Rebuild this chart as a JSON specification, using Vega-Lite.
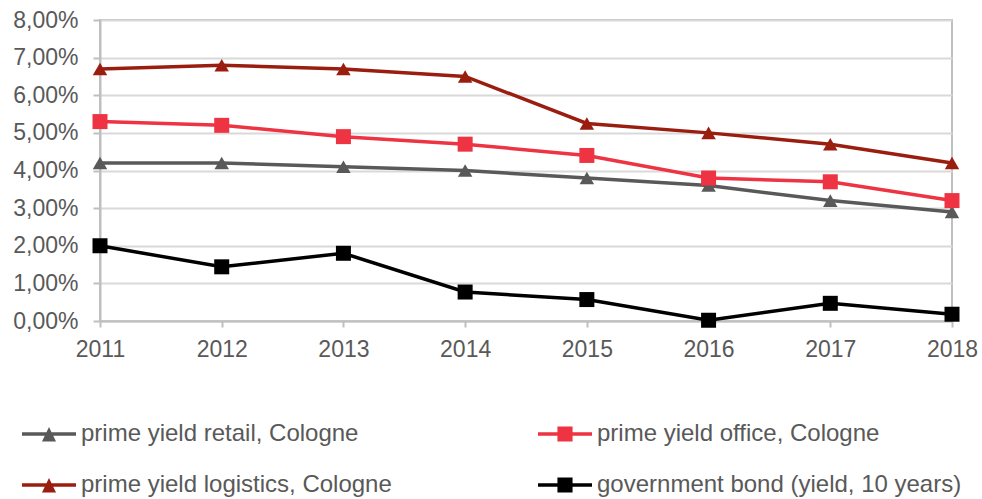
{
  "$schema": "https://vega.github.io/schema/vega-lite/v6.json",
  "width": 852,
  "height": 301,
  "autosize": {"type": "none"},
  "padding": {"left": 100, "top": 20, "right": 30, "bottom": 178},
  "background": "white",
  "config": {
    "locale": {"number": {"decimal": ",", "thousands": ".", "grouping": [3], "currency": ["", " €"]}},
    "view": {"stroke": "#bfbfbf", "strokeWidth": 2},
    "font": "Liberation Sans",
    "legend": {
      "title": null, "orient": "none", "legendX": -78, "legendY": 387,
      "direction": "horizontal", "columns": 2, "columnPadding": 146, "rowPadding": 12,
      "symbolSize": 2916, "labelFontSize": 24, "labelFont": "Liberation Sans",
      "labelColor": "#595959", "labelOffset": 5, "symbolStrokeWidth": 0, "labelLimit": 500
    }
  },
  "data": {
    "values": [
      {"year": 2011, "series": "prime yield retail, Cologne", "value": 0.042},
      {"year": 2012, "series": "prime yield retail, Cologne", "value": 0.042},
      {"year": 2013, "series": "prime yield retail, Cologne", "value": 0.041},
      {"year": 2014, "series": "prime yield retail, Cologne", "value": 0.040},
      {"year": 2015, "series": "prime yield retail, Cologne", "value": 0.038},
      {"year": 2016, "series": "prime yield retail, Cologne", "value": 0.036},
      {"year": 2017, "series": "prime yield retail, Cologne", "value": 0.032},
      {"year": 2018, "series": "prime yield retail, Cologne", "value": 0.029},
      {"year": 2011, "series": "prime yield office, Cologne", "value": 0.053},
      {"year": 2012, "series": "prime yield office, Cologne", "value": 0.052},
      {"year": 2013, "series": "prime yield office, Cologne", "value": 0.049},
      {"year": 2014, "series": "prime yield office, Cologne", "value": 0.047},
      {"year": 2015, "series": "prime yield office, Cologne", "value": 0.044},
      {"year": 2016, "series": "prime yield office, Cologne", "value": 0.038},
      {"year": 2017, "series": "prime yield office, Cologne", "value": 0.037},
      {"year": 2018, "series": "prime yield office, Cologne", "value": 0.032},
      {"year": 2011, "series": "prime yield logistics, Cologne", "value": 0.067},
      {"year": 2012, "series": "prime yield logistics, Cologne", "value": 0.068},
      {"year": 2013, "series": "prime yield logistics, Cologne", "value": 0.067},
      {"year": 2014, "series": "prime yield logistics, Cologne", "value": 0.065},
      {"year": 2015, "series": "prime yield logistics, Cologne", "value": 0.0525},
      {"year": 2016, "series": "prime yield logistics, Cologne", "value": 0.050},
      {"year": 2017, "series": "prime yield logistics, Cologne", "value": 0.047},
      {"year": 2018, "series": "prime yield logistics, Cologne", "value": 0.042},
      {"year": 2011, "series": "government bond (yield, 10 years)", "value": 0.0200},
      {"year": 2012, "series": "government bond (yield, 10 years)", "value": 0.0144},
      {"year": 2013, "series": "government bond (yield, 10 years)", "value": 0.0180},
      {"year": 2014, "series": "government bond (yield, 10 years)", "value": 0.0077},
      {"year": 2015, "series": "government bond (yield, 10 years)", "value": 0.0057},
      {"year": 2016, "series": "government bond (yield, 10 years)", "value": 0.0002},
      {"year": 2017, "series": "government bond (yield, 10 years)", "value": 0.0047},
      {"year": 2018, "series": "government bond (yield, 10 years)", "value": 0.0018}
    ]
  },
  "encoding": {
    "x": {
      "field": "year", "type": "ordinal",
      "scale": {"type": "point", "padding": 0},
      "axis": {
        "title": null, "labelAngle": 0, "labelFontSize": 23, "labelColor": "#595959",
        "labelFont": "Liberation Sans", "labelPadding": 11, "tickSize": 6,
        "tickColor": "#bfbfbf", "tickWidth": 2, "domainColor": "#bfbfbf", "domainWidth": 2,
        "grid": false
      }
    },
    "y": {
      "field": "value", "type": "quantitative",
      "scale": {"domain": [0, 0.08], "nice": false},
      "axis": {
        "title": null, "format": ".2%", "values": [0, 0.01, 0.02, 0.03, 0.04, 0.05, 0.06, 0.07, 0.08],
        "labelFontSize": 23, "labelColor": "#595959", "labelFont": "Liberation Sans",
        "labelPadding": 15, "tickSize": 7, "tickColor": "#bfbfbf", "tickWidth": 2,
        "domainColor": "#bfbfbf", "domainWidth": 2, "gridColor": "#d9d9d9", "gridWidth": 2
      }
    },
    "color": {
      "field": "series", "type": "nominal",
      "scale": {
        "domain": ["prime yield retail, Cologne", "prime yield office, Cologne", "prime yield logistics, Cologne", "government bond (yield, 10 years)"],
        "range": ["#595959", "#EE3342", "#9A1E10", "#000000"]
      },
      "legend": {
        "encode": {
          "symbols": {
            "update": {
              "shape": {"signal": "indexof(['prime yield office, Cologne','government bond (yield, 10 years)'], datum.value) >= 0 ? 'M-1,-0.065H1V0.065H-1Z M-0.28,-0.28H0.28V0.28H-0.28Z' : 'M-1,-0.065H1V0.065H-1Z M-0.26,0.28L0,-0.26L0.26,0.28Z'"},
              "size": {"value": 2916},
              "fill": {"scale": "color", "field": "value"},
              "strokeWidth": {"value": 0},
              "opacity": {"value": 1}
            }
          }
        }
      }
    }
  },
  "layer": [
    {
      "mark": {"type": "line", "strokeWidth": 3.5}
    },
    {
      "transform": [{"filter": {"field": "series", "oneOf": ["prime yield retail, Cologne", "prime yield logistics, Cologne"]}}],
      "mark": {"type": "point", "shape": "triangle-up", "filled": true, "opacity": 1, "size": 210, "strokeWidth": 0}
    },
    {
      "transform": [{"filter": {"field": "series", "oneOf": ["prime yield office, Cologne", "government bond (yield, 10 years)"]}}],
      "mark": {"type": "point", "shape": "square", "filled": true, "opacity": 1, "size": 225, "strokeWidth": 0}
    }
  ]
}
